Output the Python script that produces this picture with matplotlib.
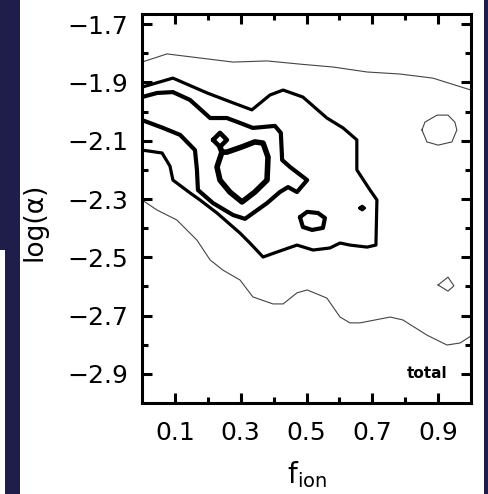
import matplotlib
matplotlib.use("Agg")
import matplotlib.pyplot as plt
from matplotlib.patches import Rectangle
from matplotlib.ticker import FixedLocator

# contour paths (x = f_ion, y = log(alpha))
# level 1 (thin, outermost)
lev1_top_x = [0.0, 0.076, 0.176, 0.277, 0.380, 0.480, 0.581, 0.684, 0.784, 0.884, 1.0]
lev1_top_y = [-1.830, -1.802, -1.816, -1.830, -1.826, -1.837, -1.847, -1.864, -1.871, -1.885, -1.926]
lev1_bot_x = [0.0, 0.046, 0.106, 0.167, 0.207, 0.246, 0.298, 0.337, 0.398, 0.429, 0.471,
              0.502, 0.562, 0.602, 0.632, 0.663, 0.754, 0.793, 0.866, 0.927, 0.967, 1.0]
lev1_bot_y = [-2.303, -2.338, -2.372, -2.441, -2.509, -2.544, -2.578, -2.636, -2.660, -2.660, -2.622,
              -2.612, -2.640, -2.705, -2.725, -2.725, -2.705, -2.715, -2.767, -2.801, -2.794, -2.770]
lev1_ring_x = [0.851, 0.860, 0.897, 0.930, 0.951, 0.957, 0.942, 0.900, 0.866, 0.851]
lev1_ring_y = [-2.063, -2.036, -2.012, -2.012, -2.036, -2.063, -2.104, -2.115, -2.104, -2.063]
lev1_tri_x = [0.900, 0.930, 0.948, 0.930, 0.900]
lev1_tri_y = [-2.595, -2.568, -2.598, -2.616, -2.595]

# level 2
lev2_x = [0.0, 0.094, 0.198, 0.277, 0.334, 0.389, 0.429, 0.489, 0.562, 0.611, 0.653, 0.653,
          0.693, 0.714, 0.711, 0.684, 0.632, 0.602, 0.571, 0.520, 0.471, 0.410, 0.368, 0.328,
          0.298, 0.228, 0.176, 0.146, 0.094, 0.085, 0.061, 0.0]
lev2_y = [-1.916, -1.885, -1.936, -1.970, -1.994, -1.943, -1.926, -1.950, -2.022, -2.056, -2.097, -2.200,
          -2.269, -2.303, -2.458, -2.465, -2.458, -2.451, -2.468, -2.475, -2.458, -2.482, -2.499, -2.451,
          -2.417, -2.348, -2.303, -2.279, -2.235, -2.187, -2.142, -2.132]
lev2_dot_x = [0.661, 0.669, 0.677, 0.669, 0.661]
lev2_dot_y = [-2.331, -2.324, -2.331, -2.338, -2.331]

# level 3
lev3_x = [0.0, 0.046, 0.094, 0.146, 0.207, 0.258, 0.298, 0.337, 0.404, 0.422, 0.426, 0.450,
          0.502, 0.471, 0.444, 0.419, 0.380, 0.313, 0.277, 0.216, 0.170, 0.167, 0.161, 0.116,
          0.064, 0.0]
lev3_y = [-1.950, -1.936, -1.933, -1.960, -2.022, -2.022, -2.039, -2.056, -2.049, -2.073, -2.166, -2.190,
          -2.235, -2.276, -2.259, -2.276, -2.314, -2.368, -2.355, -2.314, -2.269, -2.200, -2.132, -2.080,
          -2.056, -2.029]
lev3_hex_x = [0.480, 0.502, 0.535, 0.556, 0.550, 0.517, 0.489, 0.480]
lev3_hex_y = [-2.362, -2.344, -2.348, -2.365, -2.399, -2.406, -2.396, -2.362]

# level 4 (innermost)
lev4_x = [0.237, 0.243, 0.228, 0.237, 0.267, 0.304, 0.343, 0.380, 0.383, 0.368, 0.343, 0.304, 0.258, 0.243]
lev4_y = [-2.121, -2.139, -2.190, -2.235, -2.276, -2.310, -2.276, -2.235, -2.156, -2.108, -2.104, -2.121, -2.139, -2.139]
lev4_dia_x = [0.216, 0.237, 0.258, 0.237, 0.216]
lev4_dia_y = [-2.097, -2.073, -2.097, -2.121, -2.097]

xticks_major = [0.1, 0.3, 0.5, 0.7, 0.9]
xticks_minor = [0.2, 0.4, 0.6, 0.8]
yticks_major = [-1.7, -1.9, -2.1, -2.3, -2.5, -2.7, -2.9]
yticks_minor = [-1.8, -2.0, -2.2, -2.4, -2.6, -2.8]

W, H = 488, 494
fig = plt.figure(figsize=(W / 100, H / 100), dpi=100)
fig.patch.set_facecolor("white")

navy = "#1f1e4b"
# navy frame strips around the white panel
for (px, py, pw, ph) in [(0, 0, 20, 250), (5, 250, 15, 244), (484, 0, 4, 494)]:
    fig.add_artist(Rectangle((px / W, 1 - (py + ph) / H), pw / W, ph / H,
                             transform=fig.transFigure, facecolor=navy, edgecolor="none"))

ax = fig.add_axes([142 / W, 1 - 403 / H, 329 / W, 389 / H])
ax.set_xlim(0, 1)
ax.set_ylim(-3.0, -1.665)

k = dict(color="black", solid_joinstyle="round", solid_capstyle="round")
thin = dict(lw=0.8, color="#444444")
ax.plot(lev1_top_x, lev1_top_y, **thin)
ax.plot(lev1_bot_x, lev1_bot_y, **thin)
ax.plot(lev1_ring_x, lev1_ring_y, **thin)
ax.plot(lev1_tri_x, lev1_tri_y, **thin)
ax.plot(lev2_x, lev2_y, lw=2.3, **k)
ax.plot(lev2_dot_x, lev2_dot_y, lw=2.0, **k)
ax.plot(lev3_x, lev3_y, lw=3.0, **k)
ax.plot(lev3_hex_x, lev3_hex_y, lw=3.0, **k)
ax.plot(lev4_x, lev4_y, lw=4.0, **k)
ax.plot(lev4_dia_x, lev4_dia_y, lw=3.3, **k)

ax.xaxis.set_major_locator(FixedLocator(xticks_major))
ax.xaxis.set_minor_locator(FixedLocator(xticks_minor))
ax.yaxis.set_major_locator(FixedLocator(yticks_major))
ax.yaxis.set_minor_locator(FixedLocator(yticks_minor))
ax.set_xticklabels(["%.1f" % v for v in xticks_major])
ax.set_yticklabels(["\u2212%.1f" % abs(v) for v in yticks_major])

ax.tick_params(which="both", direction="in", top=True, right=True, width=2.2, labelsize=18)
ax.tick_params(axis="x", pad=13)
ax.tick_params(axis="y", pad=10)
ax.tick_params(which="major", length=7.5)
ax.tick_params(which="minor", length=4.5)
for s in ax.spines.values():
    s.set_linewidth(2.2)

ax.set_xlabel("f$_{\\mathregular{ion}}$", fontsize=20)
ax.xaxis.set_label_coords(0.5, -0.145)
ax.xaxis.label.set_va("top")
ax.set_ylabel("log(\u03b1)", fontsize=19)
ax.yaxis.set_label_coords(-0.286, 0.465)

ax.text(0.927, 0.077, "total", transform=ax.transAxes, ha="right", va="center",
        fontsize=11, fontweight="bold")

fig.savefig("out.png", dpi=100)
